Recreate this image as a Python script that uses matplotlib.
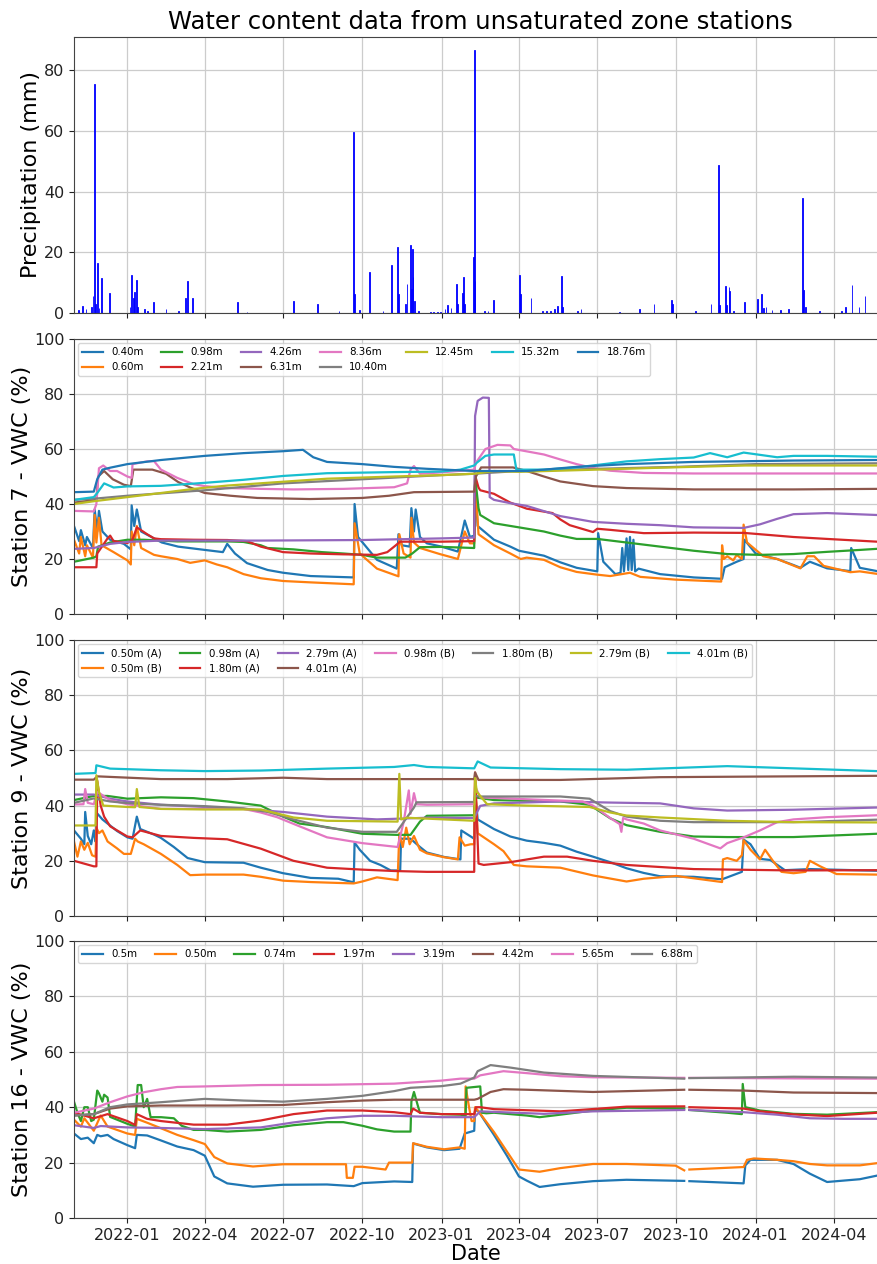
import numpy as np
import pandas as pd
import matplotlib
matplotlib.use("Agg")
import matplotlib.pyplot as plt
import matplotlib.dates as mdates

nan = float("nan")

# ---------------------------------------------------------------- precipitation
precip_dates = [
    "2021-11-05", "2021-11-10", "2021-11-14", "2021-11-20", "2021-11-22", "2021-11-24",
    "2021-11-25", "2021-11-27", "2021-11-29", "2021-12-02", "2021-12-11", "2022-01-04",
    "2022-01-06", "2022-01-08", "2022-01-09", "2022-01-12", "2022-01-13", "2022-01-21",
    "2022-01-24", "2022-01-31", "2022-02-15", "2022-03-01", "2022-03-10", "2022-03-12",
    "2022-03-18", "2022-05-09", "2022-05-20", "2022-07-13", "2022-08-10", "2022-09-04",
    "2022-09-21", "2022-09-22", "2022-09-28", "2022-10-09", "2022-10-25", "2022-11-04",
    "2022-11-11", "2022-11-12", "2022-11-20", "2022-11-22", "2022-11-26", "2022-11-27",
    "2022-11-28", "2022-11-29", "2022-12-01", "2022-12-05", "2022-12-19", "2022-12-23",
    "2022-12-27", "2022-12-31", "2023-01-05", "2023-01-08", "2023-01-12", "2023-01-18",
    "2023-01-20", "2023-01-25", "2023-01-26", "2023-01-27", "2023-01-28", "2023-02-07",
    "2023-02-08", "2023-02-09", "2023-02-20", "2023-02-24", "2023-03-02", "2023-04-02",
    "2023-04-03", "2023-04-15", "2023-04-28", "2023-05-03", "2023-05-08", "2023-05-12",
    "2023-05-16", "2023-05-20", "2023-05-22", "2023-06-08", "2023-06-12", "2023-07-27",
    "2023-08-19", "2023-09-05", "2023-09-25", "2023-09-26", "2023-10-23", "2023-11-10",
    "2023-11-19", "2023-11-20", "2023-11-27", "2023-11-28", "2023-12-01", "2023-12-02",
    "2023-12-06", "2023-12-19", "2024-01-03", "2024-01-08", "2024-01-10", "2024-01-13",
    "2024-01-20", "2024-01-30", "2024-02-08", "2024-02-24", "2024-02-26", "2024-02-28",
    "2024-03-15", "2024-04-10", "2024-04-14", "2024-04-22", "2024-04-30", "2024-05-07",
]
precip_mm = [
    1.0, 2.2, 1.4, 2.0, 5.6, 75.5,
    3.0, 16.6, 1.5, 11.6, 6.7, 2.0,
    12.6, 5.0, 7.0, 10.8, 2.0, 1.4,
    0.8, 3.6, 1.2, 0.6, 5.0, 10.7,
    5.0, 3.7, 0.4, 4.0, 2.9, 0.5,
    59.7, 6.4, 1.0, 13.5, 0.5, 15.7,
    21.8, 6.4, 2.9, 9.7, 22.5, 8.0,
    21.2, 11.9, 3.8, 0.5, 0.4, 0.3,
    0.4, 0.3, 1.2, 2.5, 1.5, 9.6,
    3.0, 6.6, 5.5, 11.9, 3.0, 18.4,
    86.6, 10.4, 0.6, 0.5, 4.2, 12.6,
    6.2, 4.8, 0.5, 0.6, 0.6, 1.3,
    2.3, 12.1, 2.0, 0.5, 1.2, 0.3,
    1.3, 3.1, 4.4, 3.0, 0.5, 3.1,
    48.9, 2.5, 8.9, 2.5, 8.7, 7.3,
    0.8, 3.6, 4.6, 6.4, 1.5, 1.9,
    1.0, 1.0, 1.2, 37.8, 7.7, 2.0,
    0.5, 0.8, 2.0, 9.2, 2.0, 5.5,
]

# ---------------------------------------------------------------- station 7 (date, VWC %)
st7_040 = [("2021-10-31", 32), ("2021-11-06", 26.5), ("2021-11-08", 30.5), ("2021-11-13", 25), ("2021-11-15", 28),
           ("2021-11-22", 24), ("2021-11-24", 38), ("2021-11-27", 30), ("2021-11-29", 37.5), ("2021-12-03", 30),
           ("2021-12-12", 27), ("2021-12-28", 25.5), ("2022-01-05", 23.5), ("2022-01-06", 39.5), ("2022-01-09", 32),
           ("2022-01-12", 38), ("2022-01-17", 30), ("2022-01-26", 28.5), ("2022-02-10", 26), ("2022-03-01", 24.5),
           ("2022-04-01", 23.3), ("2022-04-22", 22.5), ("2022-04-27", 25.5), ("2022-05-06", 22), ("2022-05-20", 18.5),
           ("2022-06-13", 16), ("2022-07-01", 15), ("2022-08-02", 13.8), ("2022-09-21", 13.3), ("2022-09-22", 40),
           ("2022-09-26", 28), ("2022-10-18", 19.7), ("2022-11-10", 16.5), ("2022-11-12", 29), ("2022-11-16", 25),
           ("2022-11-25", 24.5), ("2022-11-27", 38.5), ("2022-11-30", 30), ("2022-12-02", 38), ("2022-12-07", 28),
           ("2022-12-15", 25.7), ("2023-01-01", 24.5), ("2023-01-20", 22.7), ("2023-01-28", 34), ("2023-02-03", 28),
           ("2023-02-08", 28.5), ("2023-02-09", 47), ("2023-02-12", 32), ("2023-03-03", 27), ("2023-03-22", 24.5),
           ("2023-04-01", 23), ("2023-04-30", 21.2), ("2023-05-19", 18.8), ("2023-06-07", 16.8), ("2023-07-01", 15.5),
           ("2023-07-02", 29.4), ("2023-07-08", 19), ("2023-07-22", 14.5), ("2023-07-28", 15), ("2023-07-30", 24),
           ("2023-08-01", 15.5), ("2023-08-04", 27.5), ("2023-08-06", 16), ("2023-08-08", 28), ("2023-08-10", 16),
           ("2023-08-12", 27), ("2023-08-14", 15.5), ("2023-08-18", 16.5), ("2023-09-12", 14.5), ("2023-10-21", 13.3),
           ("2023-11-23", 12.8), ("2023-11-26", 17), ("2023-12-10", 19), ("2023-12-18", 20), ("2023-12-19", 27),
           ("2024-01-01", 22), ("2024-01-26", 20), ("2024-02-14", 17.8), ("2024-02-22", 16.8), ("2024-03-04", 19),
           ("2024-03-24", 16.6), ("2024-04-20", 15.6), ("2024-04-21", 24), ("2024-05-01", 16.8), ("2024-05-21", 15.6)]
st7_060 = [("2021-10-31", 27), ("2021-11-06", 22), ("2021-11-08", 28), ("2021-11-13", 21), ("2021-11-15", 25),
           ("2021-11-22", 20.5), ("2021-11-24", 36), ("2021-11-26", 26), ("2021-11-29", 35), ("2021-12-02", 25),
           ("2021-12-16", 22.5), ("2022-01-01", 19.5), ("2022-01-05", 18), ("2022-01-06", 30), ("2022-01-09", 25),
           ("2022-01-12", 32), ("2022-01-17", 24), ("2022-02-01", 21.5), ("2022-02-09", 21), ("2022-02-28", 20),
           ("2022-03-15", 18.6), ("2022-04-01", 19.5), ("2022-04-15", 18), ("2022-04-27", 17), ("2022-05-16", 14.5),
           ("2022-06-05", 13), ("2022-07-01", 12), ("2022-08-02", 11.5), ("2022-09-21", 10.8), ("2022-09-22", 33),
           ("2022-09-28", 22), ("2022-10-18", 16.5), ("2022-11-12", 13.7), ("2022-11-13", 29), ("2022-11-18", 22),
           ("2022-11-26", 20.5), ("2022-11-27", 35), ("2022-11-30", 26), ("2022-12-07", 24), ("2022-12-30", 21.8),
           ("2023-01-20", 20), ("2023-01-28", 30), ("2023-02-03", 25.7), ("2023-02-08", 25.7), ("2023-02-09", 49),
           ("2023-02-13", 29), ("2023-03-03", 25), ("2023-03-22", 22), ("2023-04-03", 20), ("2023-04-10", 20.5),
           ("2023-04-30", 19.7), ("2023-05-19", 17), ("2023-06-07", 15.3), ("2023-07-01", 14.3), ("2023-07-16", 13.8),
           ("2023-08-08", 15), ("2023-08-20", 13.5), ("2023-09-30", 12.5), ("2023-11-22", 11.8), ("2023-11-23", 25),
           ("2023-11-25", 20), ("2023-11-29", 21), ("2023-12-06", 19.5), ("2023-12-10", 21.5), ("2023-12-16", 20),
           ("2023-12-18", 32.5), ("2023-12-22", 26), ("2024-01-10", 21), ("2024-01-26", 20), ("2024-02-22", 16.6),
           ("2024-03-01", 21), ("2024-03-09", 21), ("2024-03-20", 17.5), ("2024-04-20", 15.2), ("2024-05-01", 15.5),
           ("2024-05-21", 14.6)]
st7_098 = [("2021-10-31", 19), ("2021-11-23", 20.5), ("2021-11-26", 21), ("2021-11-28", 24.5), ("2021-12-12", 26),
           ("2022-01-01", 27), ("2022-01-20", 27), ("2022-02-28", 26.4), ("2022-04-27", 26.4), ("2022-05-16", 26.2),
           ("2022-06-05", 25), ("2022-06-13", 24), ("2022-07-13", 23.5), ("2022-08-15", 22.5), ("2022-09-09", 22),
           ("2022-10-01", 21.5), ("2022-10-18", 20.5), ("2022-11-20", 20.5), ("2022-11-28", 22), ("2022-12-07", 24.3),
           ("2023-01-01", 24.4), ("2023-02-08", 24), ("2023-02-09", 50), ("2023-02-13", 38.5), ("2023-02-15", 36),
           ("2023-03-03", 33), ("2023-04-01", 31.5), ("2023-04-30", 30), ("2023-05-19", 28.5), ("2023-06-07", 27.3),
           ("2023-07-01", 27.3), ("2023-08-04", 26), ("2023-09-12", 24.5), ("2023-10-21", 23), ("2023-11-29", 21.8),
           ("2024-01-06", 21.5), ("2024-02-14", 21.8), ("2024-03-24", 22.6), ("2024-05-01", 23.3), ("2024-05-21", 23.7)]
st7_221 = [("2021-10-31", 17), ("2021-11-26", 17), ("2021-11-27", 22), ("2021-12-09", 27.5), ("2021-12-12", 28.5),
           ("2021-12-16", 26.5), ("2022-01-01", 25.8), ("2022-01-07", 27), ("2022-01-12", 31.5), ("2022-01-24", 29),
           ("2022-02-01", 27.5), ("2022-02-09", 27.2), ("2022-03-19", 27), ("2022-04-27", 26.9), ("2022-05-20", 26.5),
           ("2022-06-05", 24.5), ("2022-07-01", 22.5), ("2022-08-02", 22), ("2022-09-09", 21.7), ("2022-10-18", 21.5),
           ("2022-10-30", 22.5), ("2022-11-07", 24.5), ("2022-11-14", 26.3), ("2023-01-01", 26.3), ("2023-02-08", 26.5),
           ("2023-02-09", 50.4), ("2023-02-13", 46), ("2023-02-15", 45), ("2023-03-03", 43.7), ("2023-03-22", 40.5),
           ("2023-04-10", 38.3), ("2023-05-10", 36.7), ("2023-05-19", 34.4), ("2023-05-30", 32.3), ("2023-06-26", 29.8),
           ("2023-07-01", 31), ("2023-07-16", 30.6), ("2023-08-24", 29.4), ("2023-10-21", 29.6), ("2023-12-18", 29.5),
           ("2024-02-14", 28), ("2024-03-24", 27.3), ("2024-05-21", 26.3)]
st7_426 = [("2021-10-31", 23.7), ("2021-11-23", 24), ("2021-12-12", 25.5), ("2022-01-01", 26.2), ("2022-02-09", 26.7),
           ("2022-06-05", 26.7), ("2022-10-01", 26.9), ("2023-01-01", 27.5), ("2023-02-08", 27.8), ("2023-02-09", 72),
           ("2023-02-12", 77.5), ("2023-02-18", 78.7), ("2023-02-25", 78.6), ("2023-02-26", 42.5), ("2023-03-03", 41.5),
           ("2023-03-22", 40.3), ("2023-04-10", 39.3), ("2023-05-19", 35.6), ("2023-06-26", 33.5), ("2023-08-04", 32.8),
           ("2023-09-12", 32.3), ("2023-10-21", 31.5), ("2023-12-18", 31.3), ("2024-01-06", 32.6), ("2024-01-26", 34.6),
           ("2024-02-14", 36.3), ("2024-03-24", 36.7), ("2024-05-21", 36)]
st7_631 = [("2021-10-31", 40.5), ("2021-11-26", 41.5), ("2021-11-28", 50), ("2021-12-05", 52), ("2021-12-15", 49),
           ("2021-12-28", 47), ("2022-01-05", 46.5), ("2022-01-08", 52.5), ("2022-01-30", 52.5), ("2022-02-15", 51),
           ("2022-03-01", 48), ("2022-03-15", 46), ("2022-04-01", 44), ("2022-05-01", 43), ("2022-06-01", 42.2),
           ("2022-08-01", 41.8), ("2022-10-01", 42.2), ("2022-11-01", 43), ("2022-11-30", 44.3), ("2023-02-08", 44.5),
           ("2023-02-10", 50), ("2023-02-16", 53.3), ("2023-03-25", 53.3), ("2023-04-10", 52), ("2023-04-30", 50),
           ("2023-05-19", 48.2), ("2023-06-26", 46.5), ("2023-08-04", 45.8), ("2023-10-21", 45.3), ("2024-02-14", 45.3),
           ("2024-05-21", 45.5)]
st7_836 = [("2021-10-31", 37.5), ("2021-11-23", 37.3), ("2021-11-26", 40), ("2021-11-29", 53), ("2021-12-04", 54),
           ("2021-12-12", 52), ("2021-12-20", 52), ("2022-01-01", 50), ("2022-01-06", 49.5), ("2022-01-07", 54.5),
           ("2022-01-24", 55.5), ("2022-02-01", 55.6), ("2022-02-09", 52.5), ("2022-02-28", 49.5), ("2022-03-19", 47.2),
           ("2022-04-01", 46.5), ("2022-04-27", 45.8), ("2022-06-05", 45.5), ("2022-07-13", 45.3), ("2022-09-09", 45.5),
           ("2022-11-07", 46.1), ("2022-11-22", 47.5), ("2022-11-26", 52.5), ("2022-11-30", 53.8), ("2022-12-07", 51),
           ("2023-01-01", 51.5), ("2023-02-08", 52.5), ("2023-02-10", 55), ("2023-02-21", 60), ("2023-03-07", 61.5),
           ("2023-03-22", 61.3), ("2023-03-26", 60), ("2023-04-30", 58), ("2023-05-19", 56.2), ("2023-06-07", 54.5),
           ("2023-06-26", 53.1), ("2023-07-16", 52.1), ("2023-08-24", 51.3), ("2023-10-21", 51.1), ("2024-05-21", 51.1)]
st7_1040 = [("2021-10-31", 41.5), ("2021-11-26", 42), ("2022-01-01", 43), ("2022-04-01", 45), ("2022-07-01", 47.5),
            ("2022-10-01", 49), ("2023-01-01", 50.5), ("2023-02-08", 51), ("2023-04-01", 52), ("2023-07-01", 52.8),
            ("2023-10-01", 53.5), ("2024-01-01", 54.5), ("2024-05-21", 54.8)]
st7_1245 = [("2021-10-31", 40), ("2021-11-23", 41), ("2022-01-01", 42.5), ("2022-02-09", 44), ("2022-03-19", 45.5),
            ("2022-04-27", 46.7), ("2022-07-01", 48.1), ("2022-08-21", 49.2), ("2022-11-07", 50), ("2023-01-01", 50.5),
            ("2023-02-08", 51), ("2023-03-03", 52), ("2023-04-01", 51.7), ("2023-07-01", 52.5), ("2023-09-12", 53.2),
            ("2023-12-20", 54), ("2024-05-21", 54)]
st7_1532 = [("2021-10-31", 41.5), ("2021-11-23", 42.5), ("2021-11-27", 44), ("2021-12-05", 47.5), ("2021-12-16", 46),
            ("2022-01-01", 46.4), ("2022-02-09", 46.6), ("2022-04-01", 47.7), ("2022-05-16", 48.8), ("2022-07-01", 50.2),
            ("2022-08-21", 51.2), ("2022-11-07", 51.6), ("2023-01-01", 51.8), ("2023-01-23", 52.5), ("2023-02-08", 54),
            ("2023-02-11", 55), ("2023-02-21", 57.5), ("2023-03-03", 58), ("2023-03-26", 58), ("2023-03-29", 52.5),
            ("2023-04-30", 52.5), ("2023-06-07", 53.3), ("2023-08-04", 55.5), ("2023-09-12", 56.3), ("2023-10-21", 56.9),
            ("2023-11-09", 58.5), ("2023-11-29", 57), ("2023-12-18", 58.7), ("2024-01-26", 57), ("2024-02-14", 57.5),
            ("2024-03-24", 57.5), ("2024-05-21", 57.2)]
st7_1876 = [("2021-10-31", 44.3), ("2021-11-23", 44.5), ("2021-11-27", 49), ("2021-12-03", 52.5), ("2021-12-12", 53.2),
            ("2022-01-01", 54.5), ("2022-02-09", 56), ("2022-04-01", 57.5), ("2022-05-16", 58.5), ("2022-07-01", 59.2),
            ("2022-07-24", 59.7), ("2022-08-05", 57), ("2022-08-21", 55.3), ("2022-10-01", 54.5), ("2022-11-07", 53.5),
            ("2022-12-15", 52.8), ("2023-02-08", 52), ("2023-04-10", 52), ("2023-04-30", 52.5), ("2023-06-07", 53.5),
            ("2023-08-04", 54.5), ("2023-10-21", 55.3), ("2024-02-14", 55.8), ("2024-05-21", 56)]

# ---------------------------------------------------------------- station 9 (date, VWC %)
st9_050a = [("2021-10-31", 31), ("2021-11-08", 28), ("2021-11-12", 26), ("2021-11-13", 37.7), ("2021-11-16", 29),
            ("2021-11-20", 26), ("2021-11-23", 31), ("2021-11-25", 27), ("2021-11-26", 37.5), ("2021-12-03", 35),
            ("2021-12-09", 33.5), ("2021-12-20", 30.8), ("2022-01-01", 28.5), ("2022-01-07", 28), ("2022-01-12", 36),
            ("2022-01-16", 31.5), ("2022-02-01", 29.5), ("2022-02-09", 28.3), ("2022-02-24", 25), ("2022-03-12", 21),
            ("2022-04-01", 19.5), ("2022-05-16", 19.3), ("2022-06-05", 17.5), ("2022-07-01", 15.5), ("2022-08-02", 13.8),
            ("2022-09-03", 13.5), ("2022-09-21", 12.2), ("2022-09-22", 26.6), ("2022-09-28", 24), ("2022-10-10", 20),
            ("2022-10-22", 18.5), ("2022-11-03", 16.5), ("2022-11-14", 16.5), ("2022-11-15", 28), ("2022-11-26", 28),
            ("2022-12-07", 25), ("2022-12-15", 23), ("2023-01-04", 21.4), ("2023-01-23", 20.5), ("2023-01-24", 31),
            ("2023-02-08", 28), ("2023-02-09", 45), ("2023-02-12", 35), ("2023-03-03", 31.5), ("2023-03-22", 28.8),
            ("2023-04-10", 27.3), ("2023-04-30", 26.5), ("2023-05-19", 25.5), ("2023-06-07", 23.3), ("2023-06-26", 21.5),
            ("2023-07-16", 19.5), ("2023-08-04", 17.3), ("2023-08-24", 15.6), ("2023-09-12", 14.4), ("2023-10-21", 14.2),
            ("2023-11-23", 13.3), ("2023-11-29", 14), ("2023-12-16", 16), ("2023-12-18", 27.7), ("2023-12-26", 26),
            ("2024-01-06", 20.7), ("2024-01-18", 20.3), ("2024-02-04", 16.6), ("2024-03-04", 17), ("2024-05-21", 16.4)]
st9_050b = [("2021-10-31", 27), ("2021-11-04", 21.5), ("2021-11-08", 27), ("2021-11-12", 24), ("2021-11-16", 26.5),
            ("2021-11-21", 22), ("2021-11-25", 21.5), ("2021-11-26", 32), ("2021-11-29", 30), ("2021-12-03", 31),
            ("2021-12-09", 27), ("2021-12-20", 24.5), ("2021-12-28", 22.5), ("2022-01-05", 22.5), ("2022-01-10", 28),
            ("2022-01-13", 27), ("2022-01-20", 26), ("2022-02-09", 22.5), ("2022-02-28", 18.5), ("2022-03-15", 14.8),
            ("2022-04-01", 15), ("2022-05-16", 15), ("2022-06-05", 14.2), ("2022-07-01", 12.8), ("2022-08-02", 12.3),
            ("2022-09-21", 11.8), ("2022-10-01", 12.5), ("2022-10-18", 14), ("2022-11-11", 13), ("2022-11-13", 30),
            ("2022-11-17", 25), ("2022-11-21", 32), ("2022-11-25", 26), ("2022-11-30", 29), ("2022-12-07", 24),
            ("2022-12-15", 22.7), ("2023-01-04", 21.3), ("2023-01-20", 20.5), ("2023-01-22", 28.5), ("2023-01-28", 25.5),
            ("2023-02-04", 26), ("2023-02-08", 26), ("2023-02-09", 50), ("2023-02-12", 30), ("2023-03-03", 26),
            ("2023-03-14", 23.5), ("2023-03-26", 18.5), ("2023-04-10", 18), ("2023-05-19", 17.5), ("2023-06-26", 14.7),
            ("2023-08-04", 12.5), ("2023-08-24", 13.5), ("2023-10-01", 14.5), ("2023-11-23", 12.3), ("2023-11-24", 20.5),
            ("2023-11-29", 21), ("2023-12-10", 20), ("2023-12-16", 22), ("2023-12-18", 27.5), ("2023-12-26", 24),
            ("2024-01-06", 20.5), ("2024-01-12", 24), ("2024-01-21", 20), ("2024-01-31", 16), ("2024-02-14", 15.5),
            ("2024-02-28", 16), ("2024-03-04", 20), ("2024-03-16", 18), ("2024-04-04", 15.2), ("2024-05-21", 15)]
st9_098a = [("2021-10-31", 42), ("2021-11-23", 43.5), ("2021-12-09", 43.5), ("2022-01-01", 42.5), ("2022-02-09", 43),
            ("2022-03-19", 42.7), ("2022-04-27", 41.5), ("2022-06-05", 40), ("2022-07-01", 36), ("2022-07-20", 33.5),
            ("2022-08-21", 32.2), ("2022-10-01", 29.8), ("2022-11-10", 29.4), ("2022-11-26", 29.4), ("2022-12-07", 34.2),
            ("2022-12-15", 36.3), ("2023-02-08", 36.5), ("2023-02-09", 43), ("2023-03-03", 42), ("2023-05-19", 41.5),
            ("2023-06-22", 40.3), ("2023-07-16", 35.4), ("2023-08-04", 32.9), ("2023-09-12", 30.5), ("2023-10-21", 28.8),
            ("2023-11-29", 28.6), ("2024-02-14", 28.6), ("2024-05-21", 29.8)]
st9_180a = [("2021-10-31", 20), ("2021-11-23", 18), ("2021-11-26", 18), ("2021-11-27", 49), ("2021-12-01", 40),
            ("2021-12-05", 36), ("2021-12-12", 32.5), ("2022-01-01", 28.8), ("2022-01-07", 28.5), ("2022-01-16", 31),
            ("2022-02-09", 29), ("2022-03-19", 28.3), ("2022-04-27", 27.8), ("2022-06-05", 24.4), ("2022-07-13", 20),
            ("2022-08-21", 17.5), ("2022-10-01", 16.8), ("2022-11-07", 16.3), ("2022-12-15", 16), ("2023-02-08", 16),
            ("2023-02-09", 52), ("2023-02-13", 19), ("2023-02-19", 18.5), ("2023-03-22", 19.5), ("2023-04-30", 21.5),
            ("2023-05-27", 21.5), ("2023-06-26", 20), ("2023-08-04", 18.5), ("2023-10-21", 17), ("2024-02-14", 16.5),
            ("2024-05-21", 16.6)]
st9_279a = [("2021-10-31", 44), ("2021-11-23", 44), ("2021-12-12", 42.5), ("2022-01-01", 41.5), ("2022-02-09", 40.3),
            ("2022-04-01", 39.5), ("2022-05-16", 38.8), ("2022-07-01", 37.7), ("2022-08-21", 36), ("2022-10-18", 35),
            ("2022-12-15", 35.6), ("2023-02-08", 35.5), ("2023-02-15", 39.9), ("2023-03-03", 40.8), ("2023-05-19", 41.5),
            ("2023-07-16", 41.1), ("2023-09-12", 40.8), ("2023-10-21", 39), ("2023-11-29", 38.2), ("2024-02-14", 38.5),
            ("2024-05-21", 39.3)]
st9_401a = [("2021-10-31", 49.4), ("2021-11-23", 49.4), ("2021-11-27", 50.6), ("2022-02-09", 49.6), ("2022-04-27", 49.6),
            ("2022-07-01", 50.1), ("2022-08-21", 49.6), ("2023-02-08", 49.6), ("2023-02-09", 52), ("2023-02-13", 49.3),
            ("2023-05-19", 49.3), ("2023-09-12", 50.3), ("2024-02-14", 50.6), ("2024-05-21", 50.8)]
st9_098b = [("2021-10-31", 40.4), ("2021-11-11", 40.5), ("2021-11-13", 46), ("2021-11-16", 41), ("2021-11-23", 40.5),
            ("2021-11-27", 45), ("2021-12-12", 42), ("2022-01-01", 40.5), ("2022-02-09", 38.8), ("2022-05-16", 38.8),
            ("2022-06-05", 37.5), ("2022-06-24", 35.8), ("2022-07-20", 32.5), ("2022-08-21", 28.5), ("2022-10-01", 26.4),
            ("2022-11-11", 25), ("2022-11-18", 34), ("2022-11-24", 45.5), ("2022-11-26", 37), ("2022-11-30", 44.5),
            ("2022-12-03", 40.5), ("2022-12-15", 40.3), ("2023-02-08", 40.5), ("2023-02-09", 47), ("2023-02-15", 43),
            ("2023-04-10", 42.3), ("2023-06-14", 41.5), ("2023-06-26", 40), ("2023-07-16", 35.5), ("2023-07-27", 33.3),
            ("2023-07-29", 30.5), ("2023-07-31", 35.5), ("2023-08-04", 35), ("2023-08-24", 33.5), ("2023-09-12", 31),
            ("2023-10-21", 28), ("2023-11-21", 24.5), ("2023-11-29", 26.4), ("2023-12-18", 28.5), ("2024-01-06", 31),
            ("2024-01-26", 34), ("2024-02-14", 35), ("2024-03-24", 35.8), ("2024-05-21", 36.5)]
st9_180b = [("2021-10-31", 41), ("2021-11-23", 42.6), ("2021-12-12", 41.5), ("2022-01-01", 40.9), ("2022-02-09", 40.3),
            ("2022-04-01", 39.8), ("2022-05-16", 39), ("2022-06-13", 37.7), ("2022-07-13", 35), ("2022-08-21", 32),
            ("2022-10-01", 30.5), ("2022-11-10", 30.5), ("2022-11-30", 39.3), ("2022-12-03", 41.2), ("2023-02-08", 41.3),
            ("2023-02-09", 43.5), ("2023-02-15", 43.3), ("2023-05-19", 43.3), ("2023-06-22", 42.5), ("2023-07-16", 38),
            ("2023-08-04", 36), ("2023-09-12", 34.5), ("2023-10-21", 34), ("2024-02-14", 34), ("2024-05-21", 34.9)]
st9_279b = [("2021-10-31", 32.8), ("2021-11-25", 32.8), ("2021-11-26", 51), ("2021-11-29", 45), ("2021-12-04", 40),
            ("2022-01-01", 39.5), ("2022-01-10", 39.4), ("2022-01-12", 46), ("2022-01-15", 39.5), ("2022-02-09", 38.8),
            ("2022-04-01", 38.6), ("2022-06-05", 38.6), ("2022-07-13", 35.7), ("2022-08-21", 34.5), ("2022-11-11", 34.2),
            ("2022-11-13", 51.5), ("2022-11-15", 35), ("2022-11-22", 35.6), ("2023-02-08", 34.5), ("2023-02-09", 50),
            ("2023-02-11", 45), ("2023-02-23", 40.5), ("2023-04-10", 40), ("2023-06-22", 39.5), ("2023-07-16", 37.5),
            ("2023-08-04", 36.4), ("2023-09-12", 35.7), ("2023-11-29", 34.5), ("2024-02-14", 34), ("2024-05-21", 33.9)]
st9_401b = [("2021-10-31", 51.5), ("2021-11-25", 51.8), ("2021-11-26", 54.6), ("2021-12-12", 53.4), ("2022-02-09", 52.8),
            ("2022-04-01", 52.5), ("2022-06-05", 52.7), ("2022-08-21", 53.4), ("2022-11-07", 54), ("2022-11-30", 54.7),
            ("2022-12-15", 54), ("2023-02-08", 53.5), ("2023-02-12", 56), ("2023-02-27", 53.8), ("2023-05-19", 53.2),
            ("2023-08-04", 53), ("2023-11-29", 54.3), ("2024-02-14", 53.5), ("2024-05-21", 52.5)]

# ---------------------------------------------------------------- station 16 (date, VWC %); NaN marks a logging gap
st16_05 = [("2021-10-31", 30.5), ("2021-11-08", 28.5), ("2021-11-16", 29), ("2021-11-23", 27), ("2021-11-27", 30),
           ("2021-12-01", 29.5), ("2021-12-09", 30), ("2021-12-16", 28.5), ("2022-01-01", 26.3), ("2022-01-10", 25.2),
           ("2022-01-12", 30), ("2022-01-24", 29.8), ("2022-02-09", 28), ("2022-02-28", 25.8), ("2022-03-19", 24.5),
           ("2022-04-01", 22.5), ("2022-04-12", 15), ("2022-04-27", 12.5), ("2022-05-27", 11.3), ("2022-07-01", 12),
           ("2022-08-21", 12.1), ("2022-09-21", 11.5), ("2022-10-01", 12.6), ("2022-11-07", 13.2), ("2022-11-28", 13),
           ("2022-11-29", 26.9), ("2022-12-15", 25.5), ("2023-01-04", 24.5), ("2023-01-22", 25), ("2023-01-28", 30.5),
           ("2023-02-08", 31.5), ("2023-02-09", 39), ("2023-02-13", 38.5), ("2023-03-03", 30), ("2023-03-18", 22.5),
           ("2023-04-01", 15), ("2023-04-10", 13.5), ("2023-04-25", 11.2), ("2023-05-19", 12.2), ("2023-06-26", 13.3),
           ("2023-08-04", 13.8), ("2023-10-10", 13.4), ("2023-10-12", nan), ("2023-10-16", 13.3), ("2023-12-18", 12.5),
           ("2023-12-20", 19), ("2023-12-26", 21), ("2024-01-26", 21), ("2024-02-14", 19.5), ("2024-03-04", 16),
           ("2024-03-24", 13), ("2024-05-01", 14), ("2024-05-21", 15.3)]
st16_050 = [("2021-10-31", 35.5), ("2021-11-08", 33), ("2021-11-12", 36), ("2021-11-23", 31.5), ("2021-12-01", 37),
            ("2021-12-09", 33), ("2022-01-01", 30.5), ("2022-01-10", 30), ("2022-01-12", 35.8), ("2022-01-24", 34.4),
            ("2022-02-09", 32.4), ("2022-02-28", 30), ("2022-03-19", 28.1), ("2022-04-01", 26.7), ("2022-04-12", 22),
            ("2022-04-27", 19.7), ("2022-05-27", 18.6), ("2022-07-01", 19.4), ("2022-09-12", 19.4), ("2022-09-13", 14.5),
            ("2022-09-20", 14.5), ("2022-09-22", 18.5), ("2022-10-01", 18.5), ("2022-10-28", 17.5), ("2022-11-01", 20),
            ("2022-11-28", 20), ("2022-11-29", 27), ("2022-12-15", 25.7), ("2023-01-04", 24.8), ("2023-01-22", 25.5),
            ("2023-01-28", 25), ("2023-01-29", 47.5), ("2023-02-02", 40), ("2023-02-05", 35), ("2023-02-08", 35),
            ("2023-02-09", 40), ("2023-02-13", 38.5), ("2023-03-03", 31), ("2023-03-18", 24), ("2023-04-01", 17.5),
            ("2023-04-25", 16.7), ("2023-05-19", 18), ("2023-06-26", 19.5), ("2023-08-04", 19.5), ("2023-09-30", 18.9),
            ("2023-10-10", 17.2), ("2023-10-12", nan), ("2023-10-16", 17.5), ("2023-12-18", 18.4), ("2023-12-22", 21),
            ("2023-12-30", 21.5), ("2024-01-26", 21), ("2024-02-14", 20.5), ("2024-03-04", 19.5), ("2024-03-24", 19),
            ("2024-05-01", 19), ("2024-05-21", 19.8)]
st16_074 = [("2021-10-31", 42), ("2021-11-04", 38), ("2021-11-08", 35), ("2021-11-12", 40), ("2021-11-16", 40),
            ("2021-11-20", 35), ("2021-11-23", 35.5), ("2021-11-27", 46), ("2021-11-29", 45), ("2021-12-03", 42),
            ("2021-12-05", 44.5), ("2021-12-09", 43.5), ("2021-12-12", 36.5), ("2022-01-01", 34), ("2022-01-10", 33),
            ("2022-01-13", 48), ("2022-01-17", 48), ("2022-01-20", 40), ("2022-01-24", 43), ("2022-01-28", 36.4),
            ("2022-02-09", 36.4), ("2022-02-24", 36), ("2022-03-05", 33.3), ("2022-03-19", 31.8), ("2022-04-01", 31.8),
            ("2022-04-27", 31.2), ("2022-06-05", 31.8), ("2022-07-13", 33.5), ("2022-08-21", 34.6), ("2022-09-09", 34.6),
            ("2022-10-01", 33.3), ("2022-10-18", 32), ("2022-11-07", 31.2), ("2022-11-26", 31.2), ("2022-11-27", 42),
            ("2022-11-30", 45.5), ("2022-12-05", 40), ("2022-12-07", 38), ("2023-01-01", 37.5), ("2023-01-23", 37.3),
            ("2023-01-29", 37), ("2023-01-30", 47), ("2023-02-15", 47.5), ("2023-02-17", 38), ("2023-02-22", 37.8),
            ("2023-03-03", 38), ("2023-04-10", 37), ("2023-04-25", 36.4), ("2023-05-19", 37.3), ("2023-06-26", 38.8),
            ("2023-08-04", 39.8), ("2023-10-10", 39.6), ("2023-10-12", nan), ("2023-10-16", 39), ("2023-11-29", 38),
            ("2023-12-16", 37.5), ("2023-12-17", 48.4), ("2023-12-20", 40), ("2024-01-06", 38.8), ("2024-02-14", 37.6),
            ("2024-03-24", 37.3), ("2024-05-21", 38.2)]
st16_197 = [("2021-10-31", 38), ("2021-11-23", 36), ("2021-12-09", 37.5), ("2022-01-01", 35), ("2022-01-10", 33.6),
            ("2022-01-12", 37.5), ("2022-01-24", 35.8), ("2022-02-09", 35), ("2022-03-19", 33.7), ("2022-04-27", 33.7),
            ("2022-06-05", 35.2), ("2022-07-13", 37.5), ("2022-08-21", 38.8), ("2022-10-01", 38.8), ("2022-11-07", 38.2),
            ("2022-11-26", 37.5), ("2022-11-29", 39.5), ("2022-12-07", 38), ("2023-01-01", 37.5), ("2023-02-08", 37.5),
            ("2023-02-10", 40), ("2023-02-15", 40), ("2023-03-03", 39.3), ("2023-05-19", 38.5), ("2023-08-04", 40.2),
            ("2023-10-10", 40.3), ("2023-10-12", nan), ("2023-10-16", 40), ("2023-12-18", 39.5), ("2024-01-06", 38.5),
            ("2024-02-14", 37.4), ("2024-03-24", 36.8), ("2024-05-21", 38)]
st16_319 = [("2021-10-31", 33.5), ("2021-11-23", 32.5), ("2021-12-01", 33.2), ("2022-01-01", 32.7), ("2022-02-09", 32.5),
            ("2022-04-01", 32.1), ("2022-06-05", 32.7), ("2022-07-13", 34.5), ("2022-08-21", 36), ("2022-10-01", 36.9),
            ("2022-11-07", 36.9), ("2023-01-01", 36.4), ("2023-02-08", 36.4), ("2023-02-15", 38.5), ("2023-03-03", 38.3),
            ("2023-04-30", 37.6), ("2023-06-26", 38.5), ("2023-10-10", 39), ("2023-10-12", nan), ("2023-10-16", 39),
            ("2023-12-18", 38.2), ("2024-01-26", 37.3), ("2024-03-04", 36), ("2024-04-12", 35.8), ("2024-05-21", 35.8)]
st16_442 = [("2021-10-31", 37), ("2021-11-23", 37.5), ("2021-12-12", 39.5), ("2022-01-01", 40.3), ("2022-02-09", 40.6),
            ("2022-04-27", 40.6), ("2022-07-01", 40.8), ("2022-08-21", 41.8), ("2022-10-01", 42.4), ("2022-11-07", 42.7),
            ("2023-02-08", 42.7), ("2023-02-12", 43), ("2023-02-27", 45.5), ("2023-03-14", 46.5), ("2023-04-10", 46.3),
            ("2023-06-26", 45.5), ("2023-10-10", 46.3), ("2023-10-12", nan), ("2023-10-16", 46.3), ("2023-12-18", 46),
            ("2024-02-14", 45.3), ("2024-05-21", 45.1)]
st16_565 = [("2021-10-31", 38), ("2021-11-23", 39.5), ("2021-12-12", 41.8), ("2022-01-01", 43.9), ("2022-01-20", 45.4),
            ("2022-02-09", 46.5), ("2022-02-28", 47.3), ("2022-04-01", 47.5), ("2022-06-05", 48), ("2022-08-21", 48.1),
            ("2022-11-07", 48.5), ("2023-01-01", 49.6), ("2023-01-23", 50.3), ("2023-02-08", 50.3), ("2023-02-15", 51.5),
            ("2023-03-14", 53), ("2023-04-10", 52.3), ("2023-05-19", 51.2), ("2023-06-26", 50.8), ("2023-10-10", 50.6),
            ("2023-10-12", nan), ("2023-10-16", 50.6), ("2024-02-14", 50.4), ("2024-05-21", 50.3)]
st16_688 = [("2021-10-31", 37), ("2021-11-23", 37.5), ("2021-12-12", 40), ("2022-01-01", 41), ("2022-02-09", 41.8),
            ("2022-04-01", 43), ("2022-05-16", 42.4), ("2022-07-01", 42), ("2022-08-21", 43), ("2022-10-01", 44.1),
            ("2022-11-07", 45.8), ("2022-11-26", 47), ("2023-01-01", 47.6), ("2023-01-23", 48.5), ("2023-02-08", 50.7),
            ("2023-02-12", 53), ("2023-02-27", 55.2), ("2023-03-22", 54.3), ("2023-04-30", 52.5), ("2023-06-26", 51.3),
            ("2023-10-10", 50.3), ("2023-10-12", nan), ("2023-10-16", 50.5), ("2024-02-14", 51), ("2024-05-21", 50.7)]

station7 = [("0.40m", st7_040), ("0.60m", st7_060), ("0.98m", st7_098), ("2.21m", st7_221),
            ("4.26m", st7_426), ("6.31m", st7_631), ("8.36m", st7_836), ("10.40m", st7_1040),
            ("12.45m", st7_1245), ("15.32m", st7_1532), ("18.76m", st7_1876)]
station9 = [("0.50m (A)", st9_050a), ("0.50m (B)", st9_050b), ("0.98m (A)", st9_098a), ("1.80m (A)", st9_180a),
            ("2.79m (A)", st9_279a), ("4.01m (A)", st9_401a), ("0.98m (B)", st9_098b), ("1.80m (B)", st9_180b),
            ("2.79m (B)", st9_279b), ("4.01m (B)", st9_401b)]
station16 = [("0.5m", st16_05), ("0.50m", st16_050), ("0.74m", st16_074), ("1.97m", st16_197),
             ("3.19m", st16_319), ("4.42m", st16_442), ("5.65m", st16_565), ("6.88m", st16_688)]


def unpack(pairs):
    dates = pd.to_datetime([p[0] for p in pairs])
    vals = np.array([p[1] for p in pairs], dtype=float)
    return dates, vals


fig = plt.figure(figsize=(8.77, 12.64), dpi=100)
W, H = 877.0, 1264.0
left = 74 / W
panels = [(37, 313), (339, 614), (640, 916), (941, 1218)]
axes = []
for top, bot in panels:
    rect = [left, 1 - bot / H, 1.0 - left, (bot - top) / H]
    ax = fig.add_axes(rect, sharex=axes[0] if axes else None)
    axes.append(ax)

x0, x1 = pd.Timestamp("2021-10-31"), pd.Timestamp("2024-05-21")

for ax in axes:
    ax.grid(True, color="#cccccc", linewidth=0.9)
    ax.set_axisbelow(True)
    for s in ax.spines.values():
        s.set_color("#444444")
    ax.spines["right"].set_visible(False)
    ax.tick_params(labelsize=11.5, colors="#222222")
    ax.set_xlim(x0, x1)

# daily precipitation as thin bars
ax0 = axes[0]
ax0.bar(pd.to_datetime(precip_dates), precip_mm, width=0.9, color="blue",
        edgecolor="blue", linewidth=0.6)
ax0.set_ylim(0, max(precip_mm) * 1.05)
ax0.set_yticks([0, 20, 40, 60, 80])
ax0.set_ylabel("Precipitation (mm)", fontsize=16)

for ax, data, name, ncol in [(axes[1], station7, "Station 7 - VWC (%)", 7),
                             (axes[2], station9, "Station 9 - VWC (%)", 7),
                             (axes[3], station16, "Station 16 - VWC (%)", 8)]:
    for label, pairs in data:
        d, v = unpack(pairs)
        ax.plot(d, v, lw=1.6, label=label)
    ax.set_ylim(0, 100)
    ax.set_yticks([0, 20, 40, 60, 80, 100])
    ax.set_ylabel(name, fontsize=16)
    ax.legend(loc="upper left", ncol=ncol, fontsize=7.4, borderaxespad=0.4,
              columnspacing=1.75)

for ax in axes[:-1]:
    ax.tick_params(labelbottom=False)

axes[-1].xaxis.set_major_locator(mdates.MonthLocator(bymonth=[1, 4, 7, 10]))
axes[-1].xaxis.set_major_formatter(mdates.DateFormatter("%Y-%m"))
axes[-1].set_xlabel("Date", fontsize=15, labelpad=1)

fig.text(480 / W, 1 - 22 / H, "Water content data from unsaturated zone stations",
         ha="center", va="center", fontsize=17.5)

# y-label positions (right edge of the rotated text, in axes fraction)
axes[0].yaxis.set_label_coords((41 - 74) / 803, 0.5)
for ax in axes[1:]:
    ax.yaxis.set_label_coords((32 - 74) / 803, 0.5)

fig.savefig("out.png", dpi=100)
